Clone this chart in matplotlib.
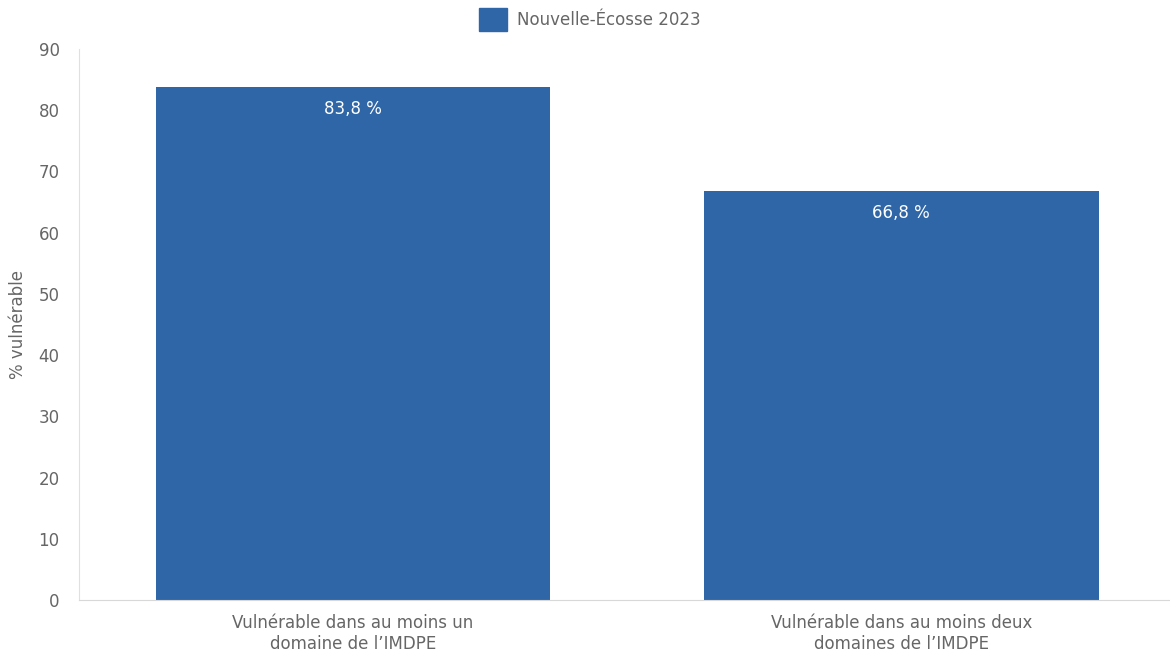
import matplotlib.pyplot as plt
from matplotlib.patches import Patch

plt.rcParams['font.family'] = ['DejaVu Sans']

# Data
categories = ["Vulnérable dans au moins un\ndomaine de l’IMDPE",
              "Vulnérable dans au moins deux\ndomaines de l’IMDPE"]
values = [83.8, 66.8]
labels = ["83,8 %", "66,8 %"]
series_name = "Nouvelle-Écosse 2023"

BAR_COLOR = "#2E66A8"
TEXT_COLOR = "#666666"

fig = plt.figure(figsize=(11.7, 6.56), dpi=100)
ax = fig.add_axes([79 / 1170, 56 / 656, 1091 / 1170, 551 / 656])

x = range(len(categories))
bars = ax.bar(x, values, width=0.72, color=BAR_COLOR)

# Value labels just inside the top of each bar
for rect, lab in zip(bars, labels):
    ax.annotate(lab, (rect.get_x() + rect.get_width() / 2, rect.get_height()),
                xytext=(0, -22), textcoords="offset points",
                ha="center", va="bottom", color="white", fontsize=12)

ax.set_xlim(-0.5, 1.49)
ax.set_ylim(0, 90)
ax.set_yticks(range(0, 91, 10))
ax.set_xticks(list(x))
ax.set_xticklabels(categories, fontsize=12, color=TEXT_COLOR, linespacing=1.25)
ax.tick_params(axis="y", labelsize=12, labelcolor=TEXT_COLOR, length=0, pad=14)
ax.tick_params(axis="x", length=0, pad=10)
ax.set_ylabel("% vulnérable", fontsize=12, color=TEXT_COLOR, labelpad=8)

for side in ["top", "right"]:
    ax.spines[side].set_visible(False)
ax.spines["left"].set_color("#E0E0E0")
ax.spines["bottom"].set_color("#D8D8D8")

fig.legend(handles=[Patch(color=BAR_COLOR, label=series_name)],
           loc="upper center", bbox_to_anchor=(0.504, 1.01), frameon=False,
           fontsize=12, labelcolor=TEXT_COLOR, handlelength=1.7, handleheight=1.7,
           handletextpad=0.6)

fig.savefig("out.png", dpi=100)
